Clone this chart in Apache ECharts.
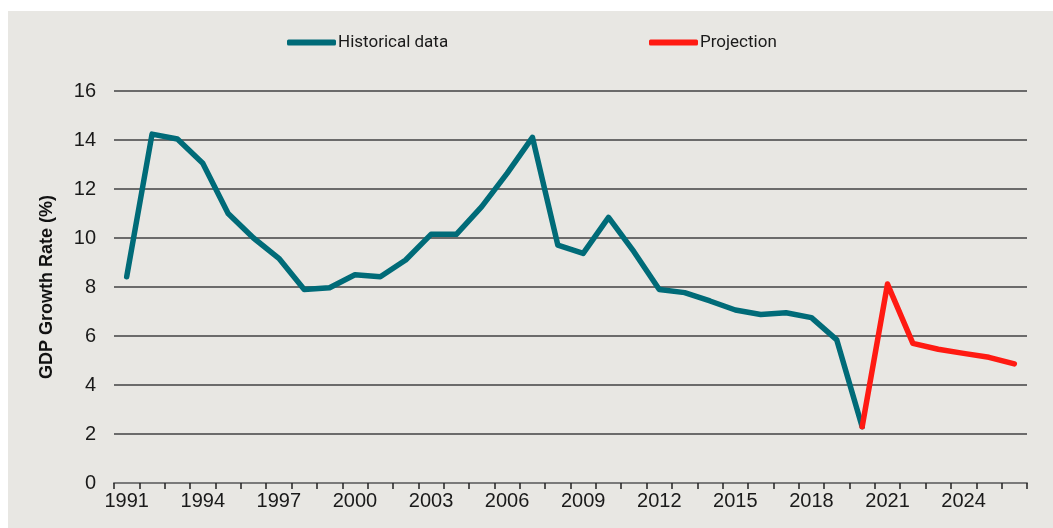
<!DOCTYPE html>
<html>
<head>
<meta charset="utf-8">
<script src="https://cdn.jsdelivr.net/npm/echarts@6/dist/echarts.min.js"></script>
<style>
  html, body { margin: 0; padding: 0; background: #fff; }
  #chart { position: absolute; left: 8px; top: 11px; width: 1045px; height: 517px; }
</style>
</head>
<body>
<div id="chart"></div>
<script>
// years on the x axis
const years = [];
for (let y = 1991; y <= 2026; y++) years.push(String(y));

// GDP growth (%)
const historical = [
  8.42, 14.24, 14.04, 13.05, 11.0, 10.0, 9.17, 7.9, 7.97, 8.5,
  8.42, 9.1, 10.15, 10.15, 11.28, 12.64, 14.11, 9.71, 9.37, 10.84,
  9.44, 7.9, 7.77, 7.43, 7.06, 6.88, 6.95, 6.75, 5.84, 2.3
];
const projectionYears = ["2020", "2021", "2022", "2023", "2024", "2025", "2026"];
const projection = [2.3, 8.12, 5.7, 5.46, 5.29, 5.13, 4.86];

const yTicks = [0, 2, 4, 6, 8, 10, 12, 14, 16];

const histSeries = years.map((y, i) => (i < historical.length ? historical[i] : null));
const projSeries = years.map((y) => {
  const k = projectionYears.indexOf(y);
  return k >= 0 ? projection[k] : null;
});

const chart = echarts.init(document.getElementById("chart"));
chart.setOption({
  backgroundColor: "#e8e7e3",
  animation: false,
  textStyle: { fontFamily: "Liberation Sans" },
  grid: {
    left: 106,
    right: 26,
    top: 80,
    bottom: 45,
    containLabel: false,
  },
  legend: [
    {
      data: ["Historical data"],
      left: 274,
      top: 18,
      icon: "roundRect",
      itemWidth: 49,
      itemHeight: 6,
      itemGap: 0,
      textStyle: { fontFamily: "Roboto", fontSize: 17, color: "#1a1a1a", padding: [0, 0, 0, -3] },
    },
    {
      data: ["Projection"],
      left: 636,
      top: 18,
      icon: "roundRect",
      itemWidth: 49,
      itemHeight: 6,
      itemGap: 0,
      textStyle: { fontFamily: "Roboto", fontSize: 17, color: "#1a1a1a", padding: [0, 0, 0, -3] },
    },
  ],
  xAxis: {
    type: "category",
    data: years,
    boundaryGap: true,
    axisLine: { lineStyle: { color: "#7a7a7a", width: 2 } },
    axisTick: {
      show: true,
      interval: 0,
      length: 6,
      lineStyle: { color: "#222", width: 1.5 },
    },
    axisLabel: {
      interval: 2,
      margin: 8,
      fontSize: 20,
      color: "#1a1a1a",
    },
    splitLine: { show: false },
  },
  yAxis: {
    type: "value",
    min: yTicks[0],
    max: yTicks[yTicks.length - 1],
    interval: 2,
    name: "GDP Growth Rate (%)",
    nameLocation: "middle",
    nameRotate: 90,
    nameGap: 58,
    nameTextStyle: { fontSize: 18, fontWeight: "bold", color: "#111" },
    axisLine: { show: false },
    axisTick: { show: false },
    axisLabel: { fontSize: 20, color: "#1a1a1a", margin: 18 },
    splitLine: { lineStyle: { color: "#6b6b6b", width: 2 } },
  },
  series: [
    {
      name: "Historical data",
      type: "line",
      data: histSeries,
      showSymbol: false,
      connectNulls: false,
      color: "#006b78",
      lineStyle: { width: 5.5, cap: "round", join: "round" },
      z: 2,
    },
    {
      name: "Projection",
      type: "line",
      data: projSeries,
      showSymbol: false,
      connectNulls: false,
      color: "#ff1a12",
      lineStyle: { width: 5.5, cap: "round", join: "round" },
      z: 3,
    },
  ],
});
</script>
</body>
</html>
